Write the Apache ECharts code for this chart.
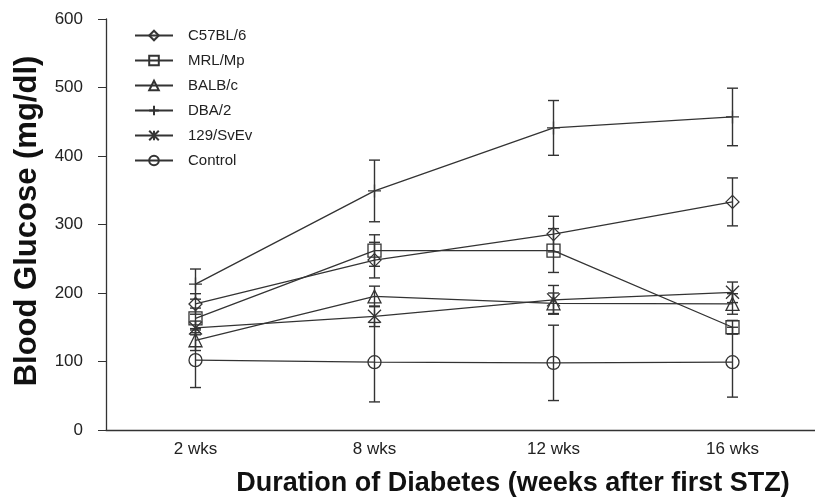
<!DOCTYPE html>
<html>
<head>
<meta charset="utf-8">
<script src="https://cdn.jsdelivr.net/npm/echarts@6/dist/echarts.min.js"></script>
<style>
html,body{margin:0;padding:0;background:#fff;overflow:hidden;}
#chart{width:830px;height:502px;}
</style>
</head>
<body>
<div id="chart"></div>
<script>
const categories = ['2 wks', '8 wks', '12 wks', '16 wks'];
const yTicks = [0, 100, 200, 300, 400, 500, 600];

const c57 = [184, 248, 286, 333];
const c57Err = [15, 26, 26, 35];
const mrl = [163, 262, 262, 150];
const mrlErr = [15, 23, 32, 10];
const balb = [131, 195, 185, 184];
const balbErr = [15, 15, 15, 15];
const dba = [213, 349, 441, 457];
const dbaErr = [22, 45, 40, 42];
const sv129 = [149, 166, 190, 201];
const sv129Err = [10, 15, 21, 15];
const control = [102, 99, 98, 99];
const controlErr = [40, 58, 55, 51];

const seriesDefs = [
  {name: 'C57BL/6', data: c57, err: c57Err, symbol: 'diamond'},
  {name: 'MRL/Mp', data: mrl, err: mrlErr, symbol: 'rect'},
  {name: 'BALB/c', data: balb, err: balbErr, symbol: 'triangle'},
  {name: 'DBA/2', data: dba, err: dbaErr, symbol: 'path://M0,5L10,5M5,0L5,10'},
  {name: '129/SvEv', data: sv129, err: sv129Err, symbol: 'path://M0,0L10,10M10,0L0,10M5,0L5,10'},
  {name: 'Control', data: control, err: controlErr, symbol: 'circle'}
];

const INK = '#333';
const FONT = 'Liberation Sans, Arial, sans-serif';

function renderErr(params, api) {
  const i = api.value(0);
  const lo = api.coord([i, api.value(1)]);
  const hi = api.coord([i, api.value(2)]);
  const w = 5.5;
  const st = {stroke: INK, lineWidth: 1.4};
  return {
    type: 'group',
    children: [
      {type: 'line', shape: {x1: lo[0], y1: lo[1], x2: hi[0], y2: hi[1]}, style: st},
      {type: 'line', shape: {x1: lo[0] - w, y1: lo[1], x2: lo[0] + w, y2: lo[1]}, style: st},
      {type: 'line', shape: {x1: hi[0] - w, y1: hi[1], x2: hi[0] + w, y2: hi[1]}, style: st}
    ]
  };
}

const series = [];
seriesDefs.forEach(function (d) {
  series.push({
    name: d.name,
    type: 'line',
    data: d.data,
    symbol: d.symbol,
    symbolSize: 13,
    showAllSymbol: true,
    lineStyle: {color: INK, width: 1.3},
    itemStyle: {color: 'rgba(255,255,255,0)', borderColor: INK, borderWidth: 1.3},
    emphasis: {disabled: true},
    z: 3
  });
  series.push({
    name: d.name + ' err',
    type: 'custom',
    renderItem: renderErr,
    data: d.data.map(function (v, i) { return [i, v - d.err[i], v + d.err[i]]; }),
    encode: {x: 0, y: [1, 2]},
    z: 4,
    silent: true
  });
});

const chart = echarts.init(document.getElementById('chart'), null, {renderer: 'canvas'});
chart.setOption({
  animation: false,
  backgroundColor: '#fff',
  grid: {left: 106, top: 19, width: 716, height: 411},
  legend: {
    data: seriesDefs.map(function (d) { return d.name; }),
    orient: 'vertical',
    left: 134,
    top: 28,
    padding: 0,
    itemWidth: 38,
    itemHeight: 12,
    itemGap: 10,
    textStyle: {fontFamily: FONT, fontSize: 15, color: '#222', padding: [0, 0, 0, 10]},
    selectedMode: false
  },
  graphic: [
    {
      type: 'text',
      x: 513, y: 484,
      style: {
        text: 'Duration of Diabetes (weeks after first STZ)',
        font: 'bold 27px ' + FONT,
        fill: '#111',
        align: 'center',
        verticalAlign: 'middle'
      }
    },
    {
      type: 'text',
      x: 27, y: 221,
      rotation: Math.PI / 2,
      style: {
        text: 'Blood Glucose (mg/dl)',
        font: 'bold 31px ' + FONT,
        fill: '#111',
        align: 'center',
        verticalAlign: 'middle'
      }
    }
  ],
  xAxis: {
    type: 'category',
    data: categories,
    boundaryGap: true,
    axisLine: {lineStyle: {color: INK, width: 1.3}},
    axisTick: {length: 5, lineStyle: {color: INK}},
    axisLabel: {fontFamily: FONT, fontSize: 17, color: '#222', margin: 11}
  },
  yAxis: {
    type: 'value',
    min: yTicks[0],
    max: yTicks[yTicks.length - 1],
    interval: 100,
    splitLine: {show: false},
    axisLine: {show: true, lineStyle: {color: INK, width: 1.3}},
    axisTick: {show: true, length: 8, lineStyle: {color: INK}},
    axisLabel: {fontFamily: FONT, fontSize: 17, color: '#222', margin: 23}
  },
  series: series
});
</script>
</body>
</html>
